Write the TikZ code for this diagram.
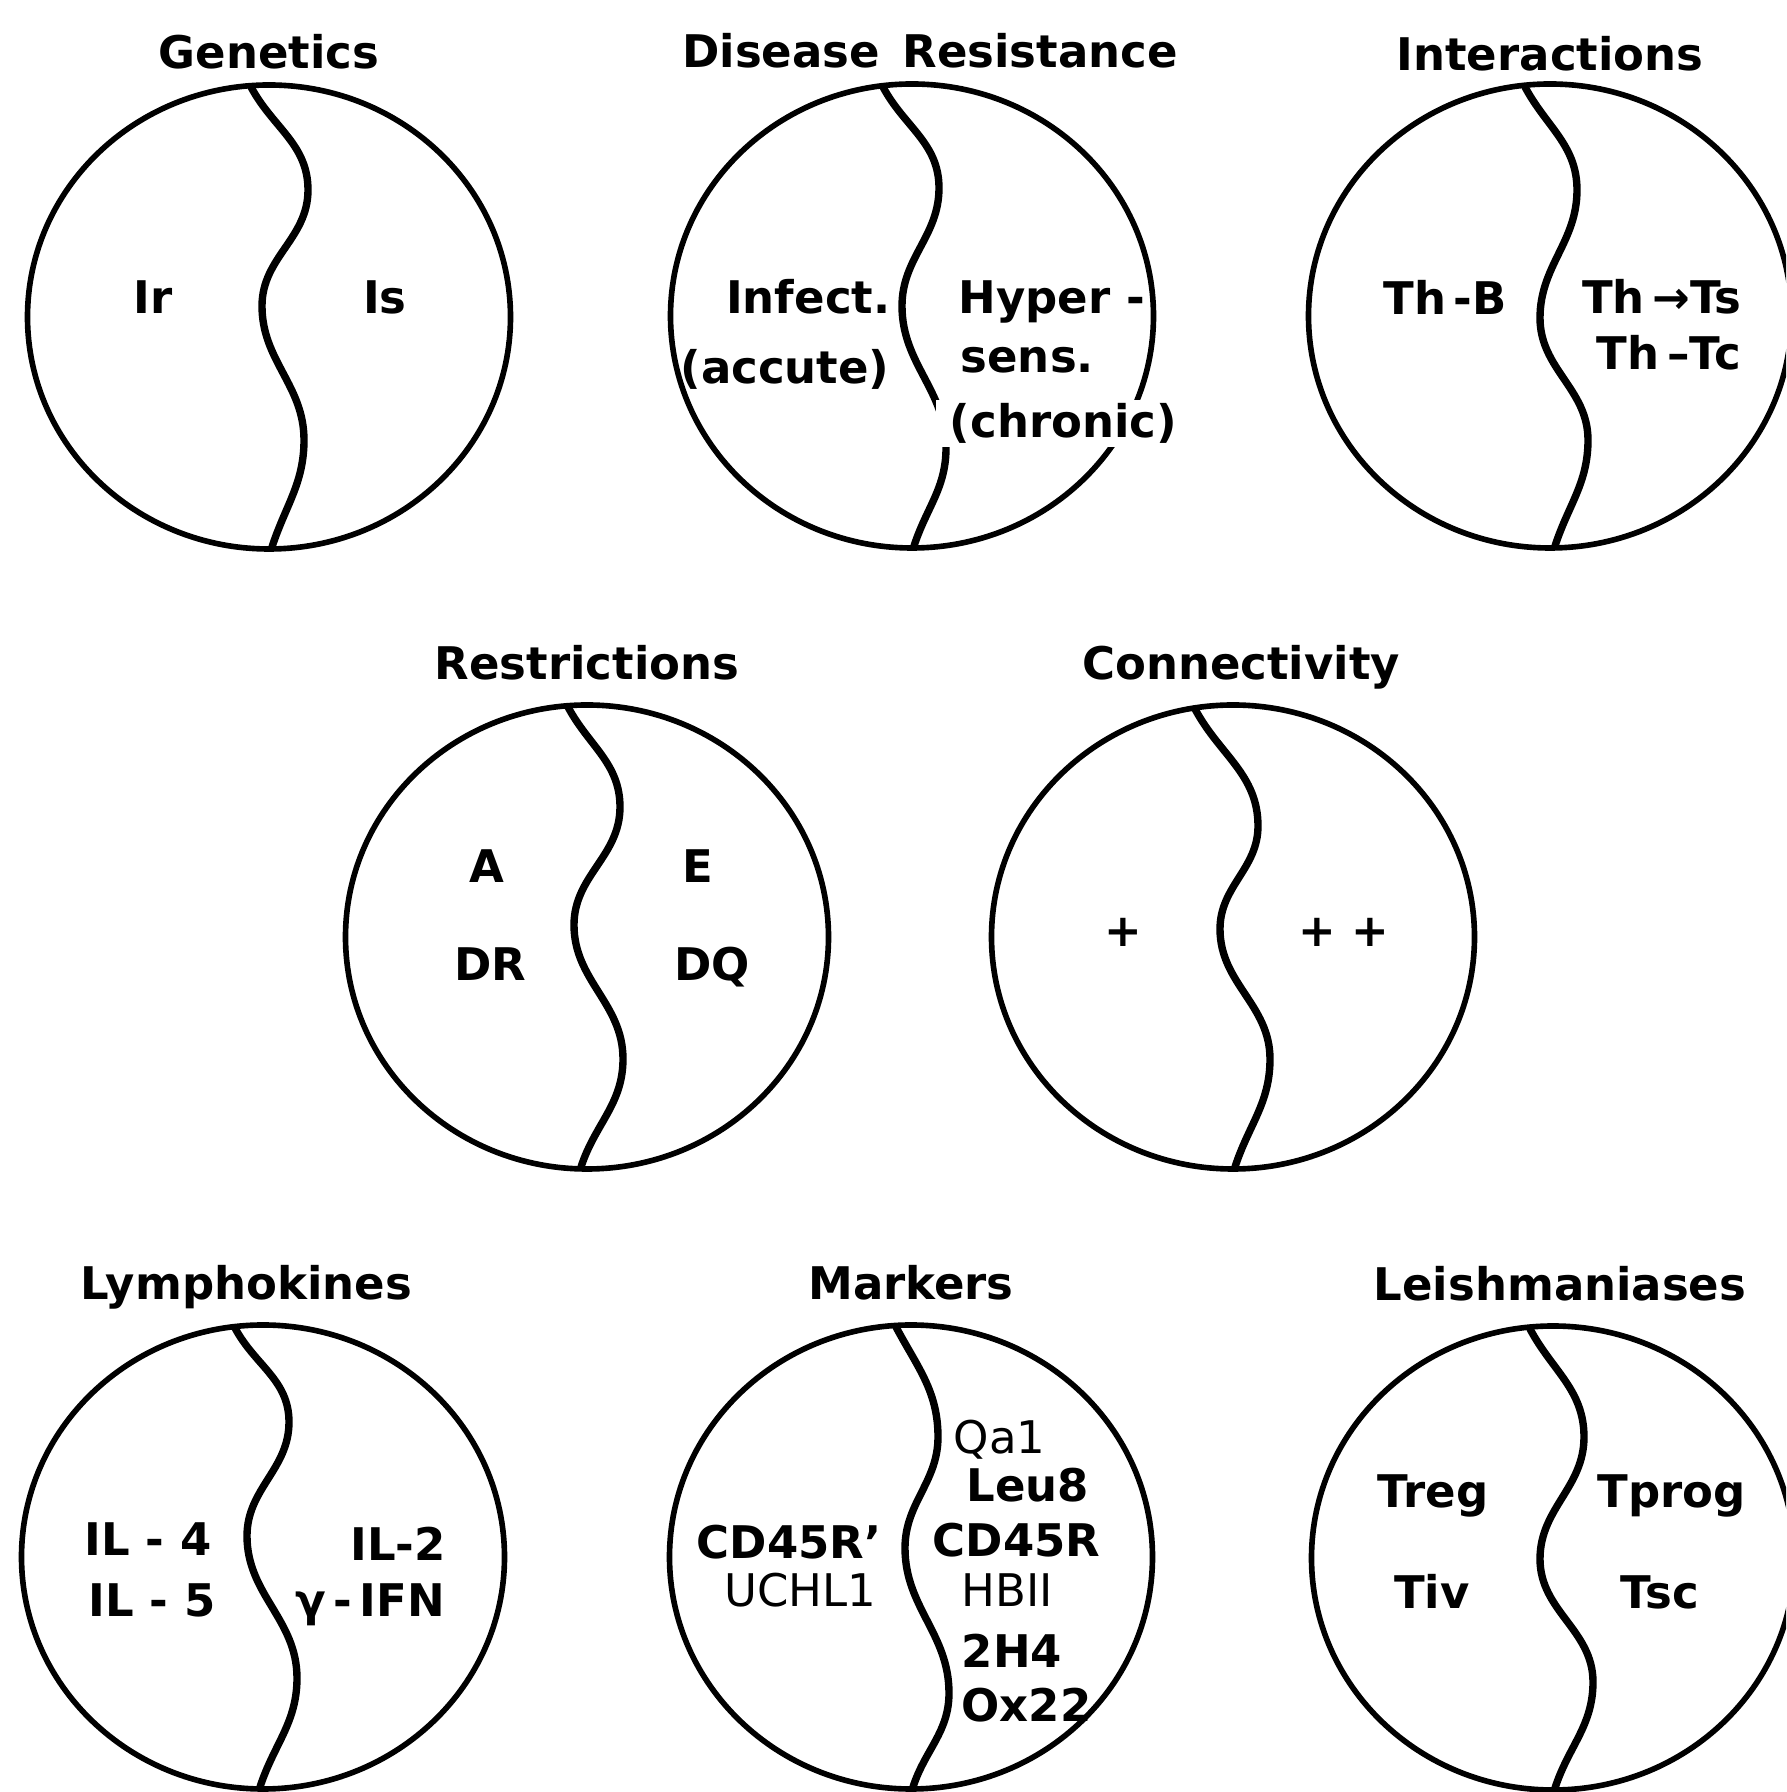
\documentclass[tikz,border=0pt]{standalone}
\usepackage{fontspec}
\setmainfont{DejaVu Sans}
\usetikzlibrary{positioning,calc,shapes.geometric}

% wavy split line inside a disc: top, right bulge, left bulge, right bulge, bottom
\newcommand{\splitwave}[6]{%
  \draw[wave] ($(#1.center)+(#2)$) to[out=-62,in=90] ($(#1.center)+(#3)$)
    to[out=-90,in=90] ($(#1.center)+(#4)$)
    to[out=-90,in=90] ($(#1.center)+(#5)$)
    to[out=-90,in=72] ($(#1.center)+(#6)$);}

\begin{document}
\begin{tikzpicture}[
  node distance=0.22cm,
  every node/.style={font=\bfseries\fontsize{12.8}{15}\selectfont},
  disc/.style={ellipse,draw,line width=1.6pt,minimum width=4.83cm,
    minimum height=4.64cm,inner sep=0pt},
  wave/.style={line width=2.1pt,line cap=round},
  title/.style={inner sep=0pt,text depth=0pt},
  lbl/.style={inner sep=0pt,anchor=base},
  thin/.style={font=\mdseries\fontsize{12.8}{15}\selectfont}
]
\useasboundingbox (0,0) rectangle (17.86,17.92);
\clip (0,0) rectangle (17.86,17.92);

% top row
\node[disc] (gen) at (2.69,14.75) {};
\node[disc] (dis) at (9.12,14.76) {};
\node[disc] (int) at (15.50,14.76) {};
% middle row
\node[disc] (res) at (5.87,8.55) {};
\node[disc] (con) at (12.33,8.55) {};
% bottom row
\node[disc] (lym) at (2.63,2.35) {};
\node[disc] (mar) at (9.11,2.35) {};
\node[disc] (lei) at (15.53,2.34) {};

\node[title,above=0.13cm of gen] (gen-t) {Genetics};
\node[title,above=0.13cm of dis,xshift=0.18cm] (dis-t) {Disease\enspace Resistance};
\node[title,above=0.10cm of int] (int-t) {Interactions};
\node[title,above=of res] (res-t) {Restrictions};
\node[title,above=of con,xshift=0.08cm] (con-t) {Connectivity};
\node[title,above=of lym,xshift=-0.17cm] (lym-t) {Lymphokines};
\node[title,above=of mar] (mar-t) {Markers};
\node[title,above=of lei,xshift=0.07cm] (lei-t) {Leishmaniases};

\splitwave{gen}{-0.18,2.30}{0.39,1.27}{-0.07,0.11}{0.35,-1.23}{0.03,-2.30}
\splitwave{dis}{-0.29,2.29}{0.27,1.28}{-0.10,0.10}{0.34,-1.32}{0.02,-2.30}
\splitwave{int}{-0.25,2.29}{0.27,1.26}{-0.10,-0.02}{0.38,-1.24}{0.05,-2.30}
\splitwave{res}{-0.19,2.30}{0.33,1.30}{-0.13,0.12}{0.36,-1.22}{-0.06,-2.30}
\splitwave{con}{-0.38,2.28}{0.25,1.11}{-0.13,0.08}{0.37,-1.22}{0.02,-2.30}
\splitwave{lym}{-0.28,2.29}{0.26,1.35}{-0.16,0.21}{0.34,-1.21}{-0.03,-2.30}
\splitwave{mar}{-0.15,2.30}{0.27,1.20}{-0.06,0.09}{0.38,-1.36}{0.02,-2.30}
\splitwave{lei}{-0.23,2.29}{0.31,1.21}{-0.13,-0.01}{0.40,-1.24}{0.02,-2.30}

% Genetics
\node[lbl] (ir) at (1.53,14.78) {Ir};
\node[lbl] (is) at (3.85,14.78) {Is};
% Disease Resistance
\node[lbl,anchor=base east] (inf) at (8.91,14.78) {Infect.};
\node[lbl,anchor=base east] (acu) at (8.90,14.08) {(accute)};
\node[lbl,anchor=base west] (hyp) at (9.58,14.78) {Hyper -};
\node[lbl,anchor=base west] (sen) at (9.60,14.19) {sens.};
\node[lbl,anchor=base west,fill=white,inner xsep=4pt,inner ysep=1pt] (chr) at (9.35,13.54) {(chronic)};
% Interactions
\node[lbl] (thb) at (14.45,14.77) {Th\,-B};
\node[lbl] (ths) at (16.62,14.78) {Th\,→Ts};
\node[lbl] (thc) at (16.69,14.22) {Th\,–Tc};
% Restrictions
\node[lbl] (ra) at (4.87,9.09) {A};
\node[lbl] (re) at (6.98,9.09) {E};
\node[lbl] (rdr) at (4.90,8.11) {DR};
\node[lbl] (rdq) at (7.12,8.11) {DQ};
% Connectivity
\node (cp) at (11.23,8.60) {+};
\node (cpp) at (13.44,8.60) {+ +};
% Lymphokines
\node[lbl] (il4) at (1.48,2.36) {IL - 4};
\node[lbl] (il5) at (1.52,1.75) {IL - 5};
\node[lbl] (il2) at (3.98,2.31) {IL-2};
\node[lbl] (ifn) at (3.70,1.75) {γ\,-\,IFN};
% Markers
\node[lbl] (cdl) at (7.89,2.33) {CD45R'};
\node[lbl,thin] (uch) at (8.00,1.85) {UCHL1};
\node[lbl,thin,anchor=base west] (qa) at (9.53,3.38) {Qa1};
\node[lbl,anchor=base west] (leu) at (9.66,2.90) {Leu8};
\node[lbl,anchor=base west] (cdr) at (9.32,2.35) {CD45R};
\node[lbl,thin,anchor=base west] (hb) at (9.61,1.85) {HBII};
\node[lbl,anchor=base west] (h4) at (9.61,1.24) {2H4};
\node[lbl,anchor=base west] (ox) at (9.61,0.70) {Ox22};
% Leishmaniases
\node[lbl] (treg) at (14.33,2.84) {Treg};
\node[lbl] (tiv) at (14.32,1.83) {Tiv};
\node[lbl] (tprog) at (16.72,2.84) {Tprog};
\node[lbl] (tsc) at (16.60,1.83) {Tsc};
\end{tikzpicture}
\end{document}
